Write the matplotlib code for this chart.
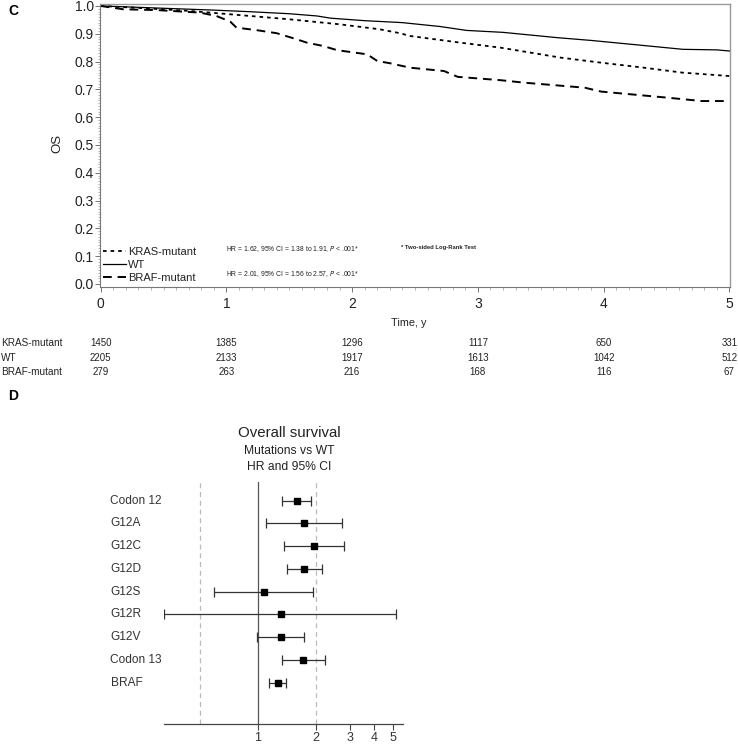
import numpy as np
import matplotlib
matplotlib.use("Agg")
import matplotlib.pyplot as plt
from matplotlib.ticker import MultipleLocator, FixedLocator, NullLocator, FixedFormatter, NullFormatter

plt.rcParams['font.family'] = ['Liberation Sans', 'DejaVu Sans']

# ---------------- Panel C data (Kaplan-Meier OS) ----------------
wt_t = [0, 0.3, 0.6, 0.9, 1.2, 1.5, 1.72, 1.83, 2.1, 2.4, 2.7, 2.91, 3.2, 3.63, 3.9, 4.29, 4.63, 4.9, 5.0]
wt_s = [1.0, 0.995, 0.99, 0.985, 0.979, 0.972, 0.964, 0.956, 0.947, 0.940, 0.926, 0.912, 0.905, 0.886, 0.876, 0.859, 0.844, 0.842, 0.838]

kras_t = [0, 0.3, 0.71, 1.03, 1.5, 1.9, 2.22, 2.38, 2.46, 2.86, 3.18, 3.66, 3.98, 4.32, 4.63, 5.0]
kras_s = [1.0, 0.993, 0.982, 0.970, 0.952, 0.934, 0.916, 0.902, 0.892, 0.868, 0.850, 0.814, 0.796, 0.778, 0.760, 0.748]

braf_t = [0, 0.18, 0.45, 0.79, 0.92, 1.03, 1.08, 1.24, 1.4, 1.56, 1.64, 1.77, 1.88, 2.12, 2.2, 2.3, 2.46,
          2.73, 2.84, 3.18, 3.37, 3.85, 3.98, 4.51, 4.78, 5.0]
braf_s = [1.0, 0.988, 0.985, 0.976, 0.964, 0.944, 0.922, 0.913, 0.902, 0.880, 0.868, 0.856, 0.841, 0.826, 0.802,
          0.794, 0.778, 0.766, 0.745, 0.733, 0.724, 0.706, 0.692, 0.670, 0.658, 0.658]

risk_times = [0, 1, 2, 3, 4, 5]
risk_groups = ["KRAS-mutant", "WT", "BRAF-mutant"]
risk_kras = [1450, 1385, 1296, 1117, 650, 331]
risk_wt = [2205, 2133, 1917, 1613, 1042, 512]
risk_braf = [279, 263, 216, 168, 116, 67]

hr_kras_text = "HR = 1.62, 95% CI = 1.38 to 1.91, $\\it{P}$ < .001*"
hr_braf_text = "HR = 2.01, 95% CI = 1.56 to 2.57, $\\it{P}$ < .001*"

# ---------------- Panel D data (forest plot) ----------------
forest_labels = ["Codon 12", "G12A", "G12C", "G12D", "G12S", "G12R", "G12V", "Codon 13", "BRAF"]
forest_hr = [1.60, 1.74, 1.96, 1.74, 1.07, 1.31, 1.32, 1.72, 1.27]
forest_lo = [1.34, 1.10, 1.37, 1.41, 0.59, 0.325, 0.99, 1.33, 1.14]
forest_hi = [1.88, 2.72, 2.78, 2.15, 1.94, 5.2, 1.73, 2.23, 1.40]
forest_ticks = [1, 2, 3, 4, 5]

W, H = 738, 746
fig = plt.figure(figsize=(W / 100, H / 100), dpi=100)

def fx(px):
    return px / W

def fy(py):
    return 1 - py / H

# ---------- Panel C ----------
ax_top, ax_bot = 4, 286.5
ax = fig.add_axes([fx(100), fy(ax_bot), fx(630), (ax_bot - ax_top) / H])
ax.set_xlim(-0.005, 5.005)
ax.set_ylim(-0.009, 1.007)

def ay(py):
    return (ax_bot - py) / (ax_bot - ax_top)

ax.plot(kras_t, kras_s, color='black', lw=1.3, linestyle=(0, (2, 2.2)), label="KRAS-mutant")
ax.plot(wt_t, wt_s, color='black', lw=0.9, linestyle='-', label="WT")
ax.plot(braf_t, braf_s, color='black', lw=1.4, linestyle=(0, (4.5, 3)), label="BRAF-mutant")

for side in ['top', 'right']:
    ax.spines[side].set_color('#999999')
    ax.spines[side].set_linewidth(1.0)
for side in ['left', 'bottom']:
    ax.spines[side].set_color('#777777')
    ax.spines[side].set_linewidth(0.8)

ax.yaxis.set_major_locator(MultipleLocator(0.1))
ax.yaxis.set_minor_locator(MultipleLocator(0.01))
ax.xaxis.set_major_locator(MultipleLocator(1))
ax.xaxis.set_minor_locator(MultipleLocator(0.1))
ax.yaxis.set_major_formatter(plt.FuncFormatter(lambda v, p: f"{v:.1f}"))
ax.tick_params(axis='both', which='major', length=3.5, width=0.7, color='#777777', labelsize=10,
               labelcolor='#222222')
ax.tick_params(axis='both', which='minor', length=1.8, width=0.5, color='#999999')
ax.tick_params(axis='y', which='major', pad=1)
ax.tick_params(axis='x', which='major', pad=4)

fig.text(fx(57), fy(143), "OS", rotation=90, ha='center', va='center', fontsize=9.5, color='#222222')
fig.text(fx(409), fy(323), "Time, y", ha='center', va='center', fontsize=7.8, color='#222222')

leg = ax.legend(loc='lower left', bbox_to_anchor=(0.004, 0.014), frameon=False, fontsize=8,
                handlelength=2.1, handletextpad=0.2, labelspacing=0.25, borderaxespad=0,
                borderpad=0)
for t in leg.get_texts():
    t.set_color('#222222')

ax.text((226.5 - 100) / 630, ay(249.3), hr_kras_text, transform=ax.transAxes, ha='left', va='center',
        fontsize=4.9, color='#222222')
ax.text((226.5 - 100) / 630, ay(274), hr_braf_text, transform=ax.transAxes, ha='left', va='center',
        fontsize=4.9, color='#222222')
ax.text((401 - 100) / 630, ay(247.5), "* Two-sided Log-Rank Test", transform=ax.transAxes, ha='left',
        va='center', fontsize=4.2, fontweight='bold', color='#222222')

# numbers at risk
row_y = [343.5, 358, 372]
risk_rows = [risk_kras, risk_wt, risk_braf]
trans_blend = matplotlib.transforms.blended_transform_factory(ax.transData, fig.transFigure)
for name, vals, py in zip(risk_groups, risk_rows, row_y):
    fig.text(fx(1), fy(py), name, ha='left', va='center', fontsize=7.2, color='#222222')
    for t, v in zip(risk_times, vals):
        ax.text(t, fy(py), str(v), transform=trans_blend, ha='center', va='center', fontsize=7,
                color='#222222', clip_on=False)

fig.text(fx(8), fy(11), "C", ha='left', va='center', fontsize=10, fontweight='bold')
fig.text(fx(8), fy(396), "D", ha='left', va='center', fontsize=10, fontweight='bold')

# ---------- Panel D ----------
lo_lim, hi_lim = 0.325, 5.68
axf = fig.add_axes([fx(164), fy(724.3), fx(403.3 - 164), (724.3 - 481.7) / H])
axf.set_xscale('log')
axf.set_xlim(lo_lim, hi_lim)
n = len(forest_labels)
ypos = np.arange(n)[::-1]
axf.set_ylim(-1.83, (n - 1) + 0.835)

axf.axvline(1, color='#555555', lw=0.9, zorder=1)
axf.axvline(0.5, color='#bbbbbb', lw=0.9, linestyle=(0, (4, 3)), zorder=1)
axf.axvline(2, color='#bbbbbb', lw=0.9, linestyle=(0, (4, 3)), zorder=1)

hr = np.array(forest_hr)
lo = np.array(forest_lo)
hi = np.array(forest_hi)
axf.errorbar(hr, ypos, xerr=[hr - lo, hi - hr], fmt='s', color='black', ms=4, mfc='black', mec='black',
             ecolor='#333333', elinewidth=0.9, capsize=3.5, capthick=0.9, zorder=3)

for side in ['top', 'right', 'left']:
    axf.spines[side].set_visible(False)
axf.spines['bottom'].set_color('#444444')
axf.spines['bottom'].set_linewidth(0.9)
axf.yaxis.set_major_locator(NullLocator())
axf.xaxis.set_major_locator(FixedLocator(forest_ticks))
axf.xaxis.set_major_formatter(FixedFormatter([str(v) for v in forest_ticks]))
axf.xaxis.set_minor_locator(NullLocator())
axf.xaxis.set_minor_formatter(NullFormatter())
axf.tick_params(axis='x', which='major', length=4, width=0.8, color='#444444', labelsize=9,
                labelcolor='#333333', pad=1.5)

trans_lab = matplotlib.transforms.blended_transform_factory(fig.transFigure, axf.transData)
for lab, y in zip(forest_labels, ypos):
    axf.text(fx(110.5), y, lab, transform=trans_lab, ha='left', va='center', fontsize=8.6,
             color='#333333')

fig.text(fx(289.5), fy(433), "Overall survival", ha='center', va='center', fontsize=10.8, color='#222222')
fig.text(fx(289.5), fy(450.7), "Mutations vs WT", ha='center', va='center', fontsize=8.7, color='#222222')
fig.text(fx(289.5), fy(467), "HR and 95% CI", ha='center', va='center', fontsize=8.7, color='#222222')

fig.savefig("out.png", dpi=100)
